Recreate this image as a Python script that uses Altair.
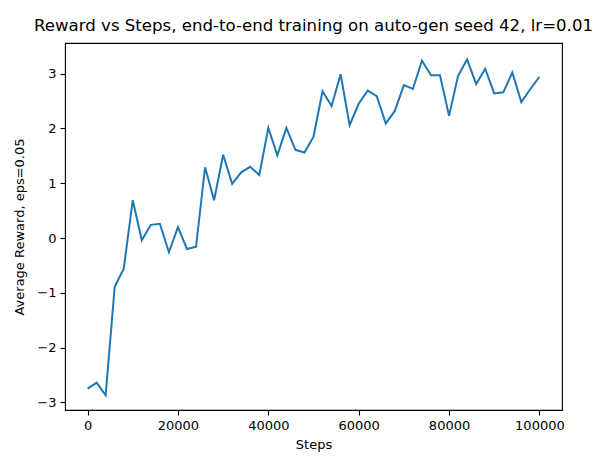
import altair as alt
import pandas as pd

steps = list(range(0, 100001, 2000))
rewards = [
    -2.75, -2.64, -2.87, -0.89, -0.56, 0.69, -0.04, 0.24, 0.26, -0.26,
    0.20, -0.20, -0.16, 1.29, 0.69, 1.52, 0.99, 1.20, 1.30, 1.15,
    2.01, 1.51, 2.01, 1.61, 1.56, 1.85, 2.68, 2.41, 2.99, 2.06,
    2.45, 2.69, 2.59, 2.09, 2.32, 2.79, 2.72, 3.24, 2.97, 2.97,
    2.23, 2.96, 3.26, 2.81, 3.09, 2.64, 2.66, 3.02, 2.48, 2.72,
    2.94,
]
x_ticks = [0, 20000, 40000, 60000, 80000, 100000]
y_ticks = [-3, -2, -1, 0, 1, 2, 3]

df = pd.DataFrame({"Steps": steps, "Reward": rewards})

FONT = "DejaVu Sans"

chart = (
    alt.Chart(df)
    .mark_line(color="#1f77b4", strokeWidth=2)
    .encode(
        x=alt.X(
            "Steps:Q",
            title="Steps",
            scale=alt.Scale(domain=[-5000, 105000], nice=False, zero=False),
            axis=alt.Axis(values=x_ticks, format="d", grid=False),
        ),
        y=alt.Y(
            "Reward:Q",
            title="Average Reward, eps=0.05",
            scale=alt.Scale(domain=[-3.14, 3.56], nice=False, zero=False),
            axis=alt.Axis(values=y_ticks, format="d", grid=False),
        ),
    )
    .properties(
        width=497,
        height=367,
        title=alt.Title(
            "Reward vs Steps, end-to-end training on auto-gen seed 42, lr=0.01",
            font=FONT,
            fontSize=16.6,
            fontWeight="normal",
            color="black",
            offset=8,
        ),
        autosize=alt.AutoSizeParams(type="none"),
        padding={"left": 57, "top": 35, "right": 33, "bottom": 45},
    )
    .configure_view(stroke="black", strokeWidth=1.1)
    .configure_axis(
        domain=False,
        tickColor="black",
        tickSize=5,
        tickWidth=1.1,
        labelFont=FONT,
        labelFontSize=13,
        labelColor="black",
        labelPadding=4,
        titleFont=FONT,
        titleFontSize=13,
        titleFontWeight="normal",
        titleColor="black",
    )
    .configure_axisX(titlePadding=6)
    .configure_axisY(titlePadding=10)
)

chart.save("out.html", embed_options={"renderer": "svg", "actions": False})
